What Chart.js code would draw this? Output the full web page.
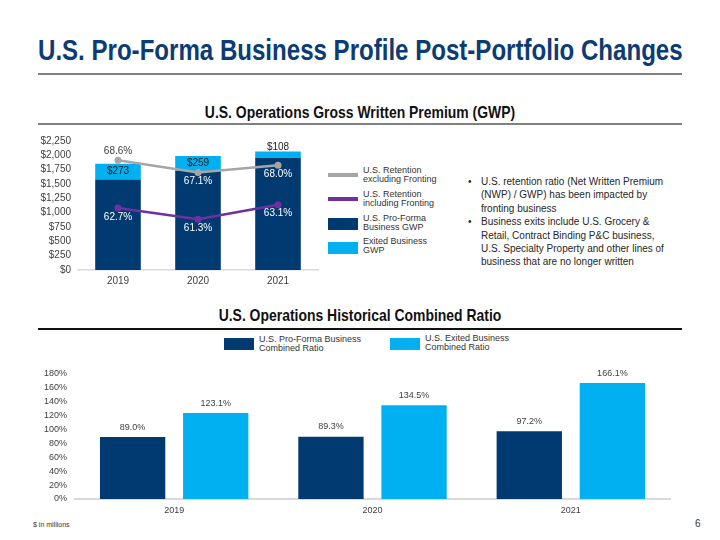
<!DOCTYPE html>
<html>
<head>
<meta charset="utf-8">
<script src="https://cdn.jsdelivr.net/npm/chart.js@4/dist/chart.umd.min.js"></script>
<style>
  body{margin:0;background:#fff;}
  #slide{position:relative;width:720px;height:540px;overflow:hidden;font-family:'Liberation Sans',Arial,sans-serif;color:#262626;}
  .abs{position:absolute;white-space:nowrap;}
  /* no narrow face installed: squeeze the regular one */
  .narrow{transform:scaleX(0.82);}
  .title{left:38px;top:33px;font-size:29px;line-height:34px;font-weight:bold;color:#0b3c74;transform-origin:0 50%;transform:scaleX(0.83);}
  .rule{position:absolute;left:38px;width:644px;}
  .head{left:0;width:720px;text-align:center;font-size:17px;line-height:20px;font-weight:bold;color:#111;transform-origin:50% 50%;}
  .leg{font-size:9px;line-height:9.3px;color:#333;}
  .sw{position:absolute;width:30px;}
  .bul{left:468px;top:175px;font-size:10px;line-height:13.4px;color:#262626;}
  .bul div{position:relative;padding-left:13px;}
  .bul div:before{content:'•';position:absolute;left:0;}
  canvas{position:absolute;}
</style>
</head>
<body>
<div id="slide">
  <div class="abs narrow title">U.S. Pro-Forma Business Profile Post-Portfolio Changes</div>
  <div class="rule" style="top:73px;height:2px;background:#808080"></div>

  <div class="abs narrow head" style="top:103px">U.S. Operations Gross Written Premium (GWP)</div>
  <div class="rule" style="top:123px;height:2px;background:#808080"></div>

  <canvas id="gwp" width="305" height="165" style="left:20px;top:128px"></canvas>
  <div id="gwpLegend"></div>

  <div class="abs bul">
    <div>U.S. retention ratio (Net Written Premium<br>(NWP) / GWP) has been impacted by<br>fronting business</div>
    <div>Business exits include U.S. Grocery &amp;<br>Retail, Contract Binding P&amp;C business,<br>U.S. Specialty Property and other lines of<br>business that are no longer written</div>
  </div>

  <div class="abs narrow head" style="top:306px">U.S. Operations Historical Combined Ratio</div>
  <div class="rule" style="top:328px;height:1.5px;background:#111"></div>
  <div id="crLegend"></div>

  <canvas id="cr" width="660" height="160" style="left:20px;top:360px"></canvas>

  <div class="abs" style="left:33px;top:521px;font-size:7px;color:#333">$ in millions</div>
  <div class="abs" style="left:695px;top:518px;font-size:10px;color:#333">6</div>
</div>

<script>
const years = ['2019', '2020', '2021'];

// GWP ($m)
const gwpProForma = [1579, 1731, 1957];
const gwpExited = [273, 259, 108];
// retention ratios (%)
const retentionExFronting = [68.6, 67.1, 68.0];
const retentionInFronting = [62.7, 61.3, 63.1];
const gwpNames = ['U.S. Retention excluding Fronting', 'U.S. Retention including Fronting', 'U.S. Pro-Forma Business GWP', 'Exited Business GWP'];
const gwpLegendLines = [['U.S. Retention', 'excluding Fronting'], ['U.S. Retention', 'including Fronting'], ['U.S. Pro-Forma', 'Business GWP'], ['Exited Business', 'GWP']];

// combined ratio (%)
const crProForma = [89.0, 89.3, 97.2];
const crExited = [123.1, 134.5, 166.1];
const crNames = ['U.S. Pro-Forma Business Combined Ratio', 'U.S. Exited Business Combined Ratio'];
const crLegendLines = [['U.S. Pro-Forma Business', 'Combined Ratio'], ['U.S. Exited Business', 'Combined Ratio']];

const NAVY = '#003a70', SKY = '#00b0f0', GREY = '#a6a6a6', PURPLE = '#7030a0';
const SANS = "'Liberation Sans', Arial, sans-serif";

Chart.defaults.font.family = SANS;
Chart.defaults.font.size = 10;
Chart.defaults.color = '#404040';

// draws the value labels, each dataset says where via its `lbl` entry
const valueLabels = {
  id: 'valueLabels',
  afterDatasetsDraw(chart){
    const ctx = chart.ctx;
    ctx.save();
    ctx.textAlign = 'center';
    ctx.textBaseline = 'middle';
    chart.data.datasets.forEach((ds, i) => {
      const lbl = ds.lbl;
      if(!lbl) return;
      ctx.font = lbl.font;
      chart.getDatasetMeta(i).data.forEach((el, j) => {
        let pos = Array.isArray(lbl.pos) ? lbl.pos[j] : lbl.pos;
        let y;
        if(pos === 'center' && Math.abs(el.base - el.y) < 12) pos = 'top';
        if(pos === 'center') y = (el.y + el.base) / 2;
        else if(pos === 'top') y = el.y - 4;
        else if(pos === 'above') y = el.y - lbl.gap;
        else y = el.y + lbl.gap;
        const c = lbl.color;
        ctx.fillStyle = typeof c === 'object' ? c[pos] : c;
        ctx.fillText(lbl.fmt(ds.data[j]), el.x, y);
      });
    });
    ctx.restore();
  }
};

function htmlLegend(id, items, boxes){
  const el = document.getElementById(id);
  items.forEach((it, k) => {
    const b = boxes[k];
    const sw = document.createElement('div');
    sw.className = 'sw';
    sw.style.cssText = `left:${b.x}px;top:${b.y - b.h / 2}px;height:${b.h}px;background:${b.color}`;
    el.appendChild(sw);
    const t = document.createElement('div');
    t.className = 'abs leg';
    t.style.cssText = `left:${b.x + 35}px;top:${b.ty - 9.3}px`;
    t.innerHTML = it.join('<br>');
    el.appendChild(t);
  });
}

const money = v => '$' + v.toLocaleString('en-US');
const pct = v => v.toFixed(1) + '%';

new Chart(document.getElementById('gwp'), {
  type: 'bar',
  data: {
    labels: years,
    datasets: [
      { type:'line', label:gwpNames[0], data:retentionExFronting, yAxisID:'y2', order:0,
        borderColor:GREY, backgroundColor:GREY, borderWidth:2.5, pointRadius:3.5, pointBackgroundColor:GREY, pointBorderWidth:0,
        lbl:{ pos:['above','below','below'], gap:9, font:`10px ${SANS}`, color:{above:'#404040', below:'#fff'}, fmt:pct } },
      { type:'line', label:gwpNames[1], data:retentionInFronting, yAxisID:'y2', order:0,
        borderColor:PURPLE, backgroundColor:PURPLE, borderWidth:2.5, pointRadius:3.5, pointBackgroundColor:PURPLE, pointBorderWidth:0,
        lbl:{ pos:'below', gap:9, font:`10px ${SANS}`, color:'#fff', fmt:pct } },
      { label:gwpNames[2], data:gwpProForma, backgroundColor:NAVY, order:1 },
      { label:gwpNames[3], data:gwpExited, backgroundColor:SKY, order:1,
        lbl:{ pos:'center', font:`10px ${SANS}`, color:'#1a1a1a', fmt:money } }
    ]
  },
  options: {
    responsive:false, animation:false,
    barPercentage:0.57, categoryPercentage:1,
    layout:{ padding:{ top:12, right:7, left:0, bottom:0 } },
    plugins:{ legend:{display:false}, tooltip:{enabled:false} },
    scales:{
      x:{ stacked:true, grid:{display:false, drawTicks:false}, border:{color:'#d9d9d9', width:1.5},
          ticks:{ padding:5, color:'#404040' }, afterFit:s => { s.height = 23; } },
      y:{ stacked:true, min:0, max:2250, grid:{display:false, drawTicks:false}, border:{display:false},
          ticks:{ stepSize:250, padding:7, autoSkip:false, callback:v => money(v) }, afterFit:s => { s.width = 58; } },
      y2:{ display:false, min:55, max:71 }
    }
  },
  plugins:[valueLabels]
});

htmlLegend('gwpLegend', gwpLegendLines, [
  { x:328, y:175, h:4.5, ty:175.3, color:GREY },
  { x:328, y:199, h:4.5, ty:199, color:PURPLE },
  { x:328, y:224, h:12, ty:223, color:NAVY },
  { x:328, y:247.5, h:12, ty:246, color:SKY }
]);

new Chart(document.getElementById('cr'), {
  type: 'bar',
  data: {
    labels: years,
    datasets: [
      { label:crNames[0], data:crProForma, backgroundColor:NAVY,
        lbl:{ pos:'above', gap:9.7, font:`9px ${SANS}`, color:'#404040', fmt:pct } },
      { label:crNames[1], data:crExited, backgroundColor:SKY,
        lbl:{ pos:'above', gap:9.7, font:`9px ${SANS}`, color:'#404040', fmt:pct } }
    ]
  },
  options: {
    responsive:false, animation:false,
    barPercentage:0.786, categoryPercentage:0.838,
    layout:{ padding:{ top:11, right:10, left:0, bottom:0 } },
    plugins:{ legend:{display:false}, tooltip:{enabled:false} },
    scales:{
      x:{ grid:{display:false, drawTicks:false}, border:{color:'#d9d9d9', width:2},
          ticks:{ padding:6, font:{size:9} }, afterFit:s => { s.height = 21; } },
      y:{ min:0, max:180, grid:{display:false, drawTicks:false}, border:{display:false},
          ticks:{ stepSize:20, padding:8, autoSkip:false, font:{size:9}, callback:v => v + '%' },
          afterFit:s => { s.width = 55; } }
    }
  },
  plugins:[valueLabels]
});

htmlLegend('crLegend', crLegendLines, [
  { x:224, y:344, h:12, ty:344.5, color:NAVY },
  { x:390, y:343.5, h:12, ty:343.2, color:SKY }
]);
</script>
</body>
</html>
